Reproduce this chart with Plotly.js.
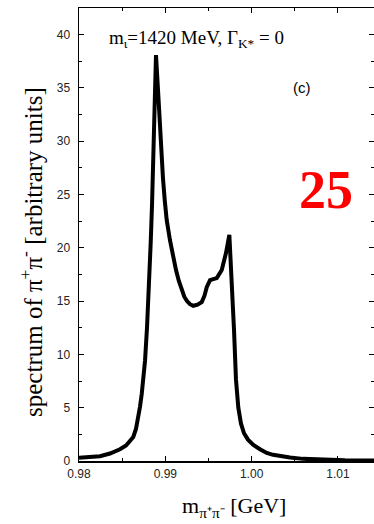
<!DOCTYPE html>
<html>
<head>
<meta charset="utf-8">
<script src="https://cdn.plot.ly/plotly-3.0.1.min.js"></script>
<style>html,body{margin:0;padding:0;background:#fff;}#chart{width:374px;height:524px;}</style>
</head>
<body>
<div id="chart"></div>
<script>
// invariant mass m(pi+ pi-) in GeV
const massGeV = [0.98000, 0.98127, 0.98243, 0.98359, 0.98475, 0.98545, 0.98591, 0.98629, 0.98660, 0.98687,
  0.98707, 0.98727, 0.98745, 0.98765, 0.98788, 0.98811, 0.98831, 0.98846, 0.98861, 0.98876,
  0.98892, 0.98921, 0.98944, 0.98973, 0.98994, 0.99016, 0.99054, 0.99089, 0.99124, 0.99156,
  0.99190, 0.99220, 0.99251, 0.99286, 0.99324, 0.99373, 0.99422, 0.99454, 0.99480, 0.99518,
  0.99556, 0.99596, 0.99654, 0.99703, 0.99742, 0.99767, 0.99796, 0.99819, 0.99846, 0.99877,
  0.99912, 0.99958, 1.00020, 1.00097, 1.00175, 1.00248, 1.00329, 1.00445, 1.00596, 1.00754,
  1.01082, 1.01418];
// spectrum [arbitrary units]
const spectrum = [0.30, 0.38, 0.45, 0.70, 1.10, 1.45, 1.85, 2.25, 3.00, 4.10,
  5.10, 6.30, 7.80, 9.40, 12.5, 16.0, 20.5, 24.0, 29.0, 33.5,
  38.06, 34.0, 30.1, 26.5, 24.4, 22.6, 20.7, 19.1, 17.9, 16.9,
  16.0, 15.4, 15.0, 14.7, 14.55, 14.65, 14.9, 15.5, 16.3, 16.95,
  17.05, 17.15, 17.9, 19.5, 21.2, 17.5, 12.3, 7.6, 5.0, 3.5,
  2.6, 2.0, 1.5, 1.1, 0.75, 0.58, 0.45, 0.32, 0.20, 0.13,
  0.07, 0.05];
const xTickVals = [0.98, 0.99, 1.00, 1.01];
const xTickText = ['0.98', '0.99', '1.00', '1.01'];
const yTickVals = [0, 5, 10, 15, 20, 25, 30, 35, 40];

const serif = 'Liberation Serif, Times New Roman, serif';
const sans = 'Liberation Sans, Arial, sans-serif';

const trace = {
  x: massGeV, y: spectrum, type: 'scatter', mode: 'lines',
  line: {color: '#000', width: 4}, hoverinfo: 'skip', showlegend: false
};

const axisCommon = {
  showline: true, linecolor: '#000', linewidth: 1.5, mirror: 'ticks',
  ticks: 'inside', ticklen: 5, tickwidth: 1, tickcolor: '#000',
  showgrid: false, zeroline: false,
  tickfont: {family: sans, size: 12, color: '#222'}
};

const layout = {
  width: 374, height: 524,
  margin: {l: 79, r: 0, t: 8, b: 63},
  paper_bgcolor: '#fff', plot_bgcolor: '#fff',
  xaxis: Object.assign({}, axisCommon, {
    range: [0.98, 1.01418], tickvals: xTickVals, ticktext: xTickText, ticklabelstandoff: 1,
    minor: {dtick: 0.005, tick0: 0.98, ticks: 'inside', ticklen: 3, tickcolor: '#000', showgrid: false}
  }),
  yaxis: Object.assign({}, axisCommon, {
    range: [0, 42.47], tickvals: yTickVals, ticklabelstandoff: 5,
    minor: {dtick: 2.5, tick0: 0, ticks: 'inside', ticklen: 3, tickcolor: '#000', showgrid: false}
  }),
  annotations: [
    {xref: 'paper', yref: 'paper', x: 0.5254, y: -0.1015, xanchor: 'center', yanchor: 'middle', showarrow: false,
     text: 'm<sub>π⁺π⁻</sub> [GeV]', font: {family: serif, size: 22, color: '#000'}},
    {xref: 'paper', yref: 'paper', x: -0.1627, y: 0.4614, xanchor: 'center', yanchor: 'middle', showarrow: false,
     textangle: -90, text: 'spectrum of π<sup>+</sup>π<sup>-</sup> [arbitrary units]', font: {family: serif, size: 25, color: '#000'}},
    {xref: 'paper', yref: 'paper', x: 0.3983, y: 0.9316, xanchor: 'center', yanchor: 'middle', showarrow: false,
     text: 'm<sub>ι</sub>=1420 MeV, Γ<sub>K*</sub> = 0', font: {family: serif, size: 19, color: '#000'}},
    {xref: 'paper', yref: 'paper', x: 0.7576, y: 0.8256, xanchor: 'center', yanchor: 'middle', showarrow: false,
     text: '(c)', font: {family: sans, size: 15, color: '#000'}},
    {xref: 'paper', yref: 'paper', x: 0.8356, y: 0.5982, xanchor: 'center', yanchor: 'middle', showarrow: false,
     text: '<b>25</b>', font: {family: serif, size: 54, color: '#ff0000'}}
  ]
};

Plotly.newPlot('chart', [trace], layout, {displayModeBar: false, staticPlot: true});
</script>
</body>
</html>
